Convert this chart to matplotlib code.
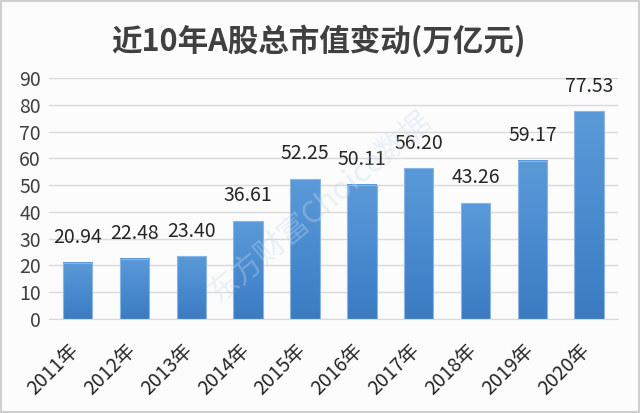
import numpy as np
import matplotlib
matplotlib.use('Agg')
import matplotlib.pyplot as plt
import matplotlib.transforms as mtransforms
from matplotlib.colors import LinearSegmentedColormap
from matplotlib.patches import Rectangle

plt.rcParams['font.family'] = ['Noto Sans CJK SC', 'DejaVu Sans']

# data
years = ['2011年', '2012年', '2013年', '2014年', '2015年',
         '2016年', '2017年', '2018年', '2019年', '2020年']
values = [20.94, 22.48, 23.40, 36.61, 52.25, 50.11, 56.20, 43.26, 59.17, 77.53]
value_labels = ['20.94', '22.48', '23.40', '36.61', '52.25',
                '50.11', '56.20', '43.26', '59.17', '77.53']
yticks = [0, 10, 20, 30, 40, 50, 60, 70, 80, 90]
title = '近10年A股总市值变动(万亿元)'

txt = '#404040'
fig = plt.figure(figsize=(6.4, 4.13), dpi=100, facecolor='#fcfcfc')
ax = fig.add_axes([0.077, 0.228, 0.888, 0.583])
ax.set_facecolor('#fcfcfc')

x = np.arange(len(years))
bars = ax.bar(x, values, width=0.52, color='none', edgecolor='#8cb6e2',
              linewidth=0.8, zorder=3)

# vertical gradient fill, lighter at the top
cmap = LinearSegmentedColormap.from_list('bl', ['#3a7bc2', '#4a8bd0', '#5b9ad8'])
grad = np.linspace(0, 1, 256).reshape(-1, 1)
for b in bars:
    x0, w, h = b.get_x(), b.get_width(), b.get_height()
    ax.imshow(grad, cmap=cmap, origin='lower', aspect='auto',
              extent=(x0, x0 + w, 0, h), zorder=2)

for xi, v, lab in zip(x, values, value_labels):
    ax.text(xi, v + 5.5, lab, ha='center', va='bottom', fontsize=14,
            color='#262626', zorder=4)

ax.set_xlim(-0.5, len(years) - 0.5)
ax.set_ylim(0, 90)
ax.set_yticks(yticks)
ax.set_yticklabels([str(t) for t in yticks], fontsize=14, color=txt)
ax.set_xticks(x)
ax.set_xticklabels(years, rotation=45, ha='right', rotation_mode='anchor',
                   fontsize=14, color='#262626')
ax.tick_params(axis='both', length=0, pad=6)
offset = mtransforms.ScaledTranslation(-7 / 72, -9 / 72, fig.dpi_scale_trans)
for lab in ax.get_xticklabels():
    lab.set_transform(lab.get_transform() + offset)
ax.grid(axis='y', color='#d9d9d9', linewidth=1, zorder=0)
for s in ['top', 'right', 'left']:
    ax.spines[s].set_visible(False)
ax.spines['bottom'].set_color('#d9d9d9')

fig.text(0.497, 0.9, title, ha='center', va='center', fontsize=22,
         fontweight='bold', color='#404040')

# faint watermark
fig.text(0.5, 0.5, '东方财富Choice数据', rotation=40, ha='center', va='center',
         fontsize=22, color='#c4daf2', alpha=0.35, zorder=5)

fig.patches.append(Rectangle((0.002, 0.003), 0.996, 0.994, transform=fig.transFigure,
                             fill=False, edgecolor='#cfcfcf', linewidth=1.5))

plt.savefig('out.png', dpi=100, facecolor=fig.get_facecolor())
